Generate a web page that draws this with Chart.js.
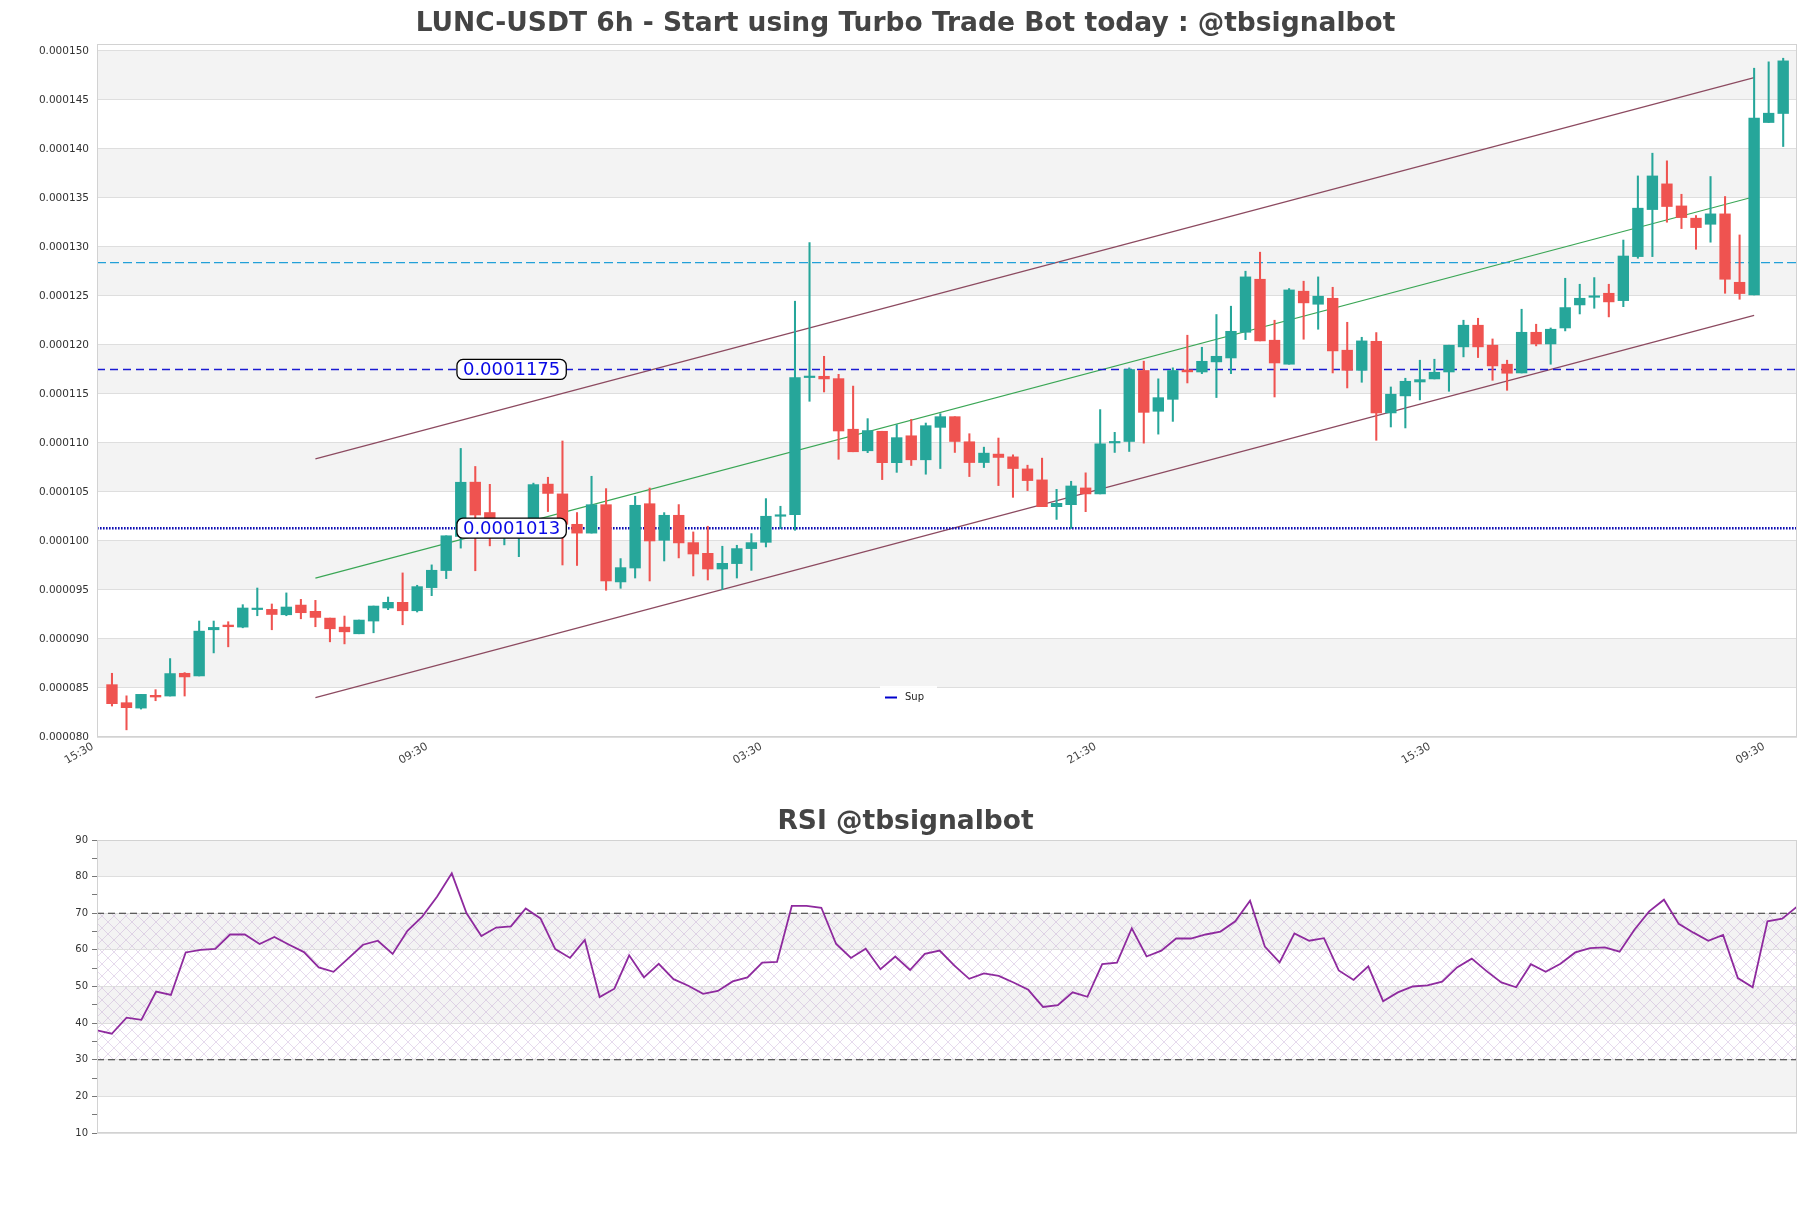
<!DOCTYPE html>
<html><head><meta charset="utf-8">
<script src="https://cdn.jsdelivr.net/npm/chart.js@4.4.0/dist/chart.umd.min.js"></script>
<style>html,body{margin:0;padding:0;background:#fff;} canvas{display:block;}</style>
</head><body>
<canvas id="main" width="1811" height="790"></canvas>
<canvas id="rsi" width="1811" height="418"></canvas>
<script>
// ---------------- data ----------------
const xTickIdx = [0, 23, 46, 69, 92, 115];
const xTickLabels = ['15:30', '09:30', '03:30', '21:30', '15:30', '09:30'];
const yTicks = [80e-6,85e-6,90e-6,95e-6,100e-6,105e-6,110e-6,115e-6,120e-6,125e-6,130e-6,135e-6,140e-6,145e-6,150e-6];
const rsiTicks = [10,15,20,25,30,35,40,45,50,55,60,65,70,75,80,85,90];

const openP = [85.34,83.5,82.95,84.25,84.18,86.5,86.23,90.94,91.42,91.21,
93.0,93.02,92.47,93.46,92.82,92.13,91.21,90.53,91.83,93.16,
93.74,92.88,95.24,96.98,100.46,106.0,102.9,100.5,101.0,101.3,
105.8,104.8,101.7,100.8,103.7,95.82,97.24,103.8,100.07,102.62,
99.83,98.74,97.14,97.69,99.22,99.86,102.52,102.69,116.67,116.8,
116.56,111.4,109.2,111.19,107.99,110.73,108.28,111.59,112.68,110.12,
108.0,108.86,108.58,107.35,106.23,103.5,103.7,105.41,104.8,110.0,
110.15,117.39,113.23,114.45,117.45,117.24,118.27,118.67,121.29,126.7,
120.48,118.03,125.48,124.15,124.76,119.46,117.41,120.37,113.06,114.8,
116.22,116.53,117.24,119.8,122.01,119.97,118.03,117.14,121.29,120.1,
121.73,124.08,124.86,125.27,124.52,129.01,133.81,136.43,134.18,132.93,
132.31,133.37,126.39,125.1,142.69,143.61].map(v => v * 1e-6);
const highP = [86.5,84.2,84.35,84.83,88.0,86.57,91.83,91.83,91.76,93.5,
95.2,93.57,94.7,94.04,93.94,92.13,92.34,91.93,93.36,94.28,
96.74,95.48,97.56,100.53,109.44,107.6,105.78,102.0,101.9,105.9,
106.5,110.2,102.9,106.6,105.34,98.2,104.56,105.4,102.89,103.71,
100.92,101.5,99.46,99.56,100.75,104.32,103.54,124.46,130.44,118.84,
117.0,115.8,112.48,111.19,111.87,112.4,112.03,112.99,112.68,110.94,
109.57,110.5,108.79,107.73,108.45,105.27,106.09,106.95,113.4,111.08,
117.66,118.34,116.54,117.66,120.99,119.76,123.1,123.95,127.52,129.46,
122.52,125.75,126.5,126.94,125.88,122.31,120.78,121.26,115.71,116.6,
118.44,118.54,119.97,122.52,122.72,120.61,118.44,123.64,122.11,121.73,
126.8,126.19,126.87,126.19,130.7,137.24,139.56,138.78,135.37,133.2,
137.18,135.14,131.22,148.23,148.88,149.25].map(v => v * 1e-6);
const lowP = [83.16,80.73,82.85,83.7,84.18,84.18,86.23,88.58,89.2,91.14,
92.37,90.94,92.37,92.06,91.25,89.71,89.5,90.53,90.63,92.99,
91.45,92.75,94.42,96.16,99.27,96.96,99.5,99.6,98.4,101.0,
103.0,97.55,97.5,100.8,94.97,95.17,96.22,95.92,97.96,98.27,
96.43,96.02,95.03,96.22,97.0,99.39,101.26,101.09,114.25,115.2,
108.33,109.1,109.01,106.26,107.0,107.7,106.81,107.39,109.03,106.57,
107.49,105.65,104.45,105.14,103.5,102.2,101.28,102.99,104.8,109.03,
109.13,109.98,110.9,112.2,116.12,117.07,114.63,117.07,120.54,120.41,
114.69,118.03,120.58,121.6,117.14,115.61,116.19,110.27,111.63,111.53,
114.39,116.53,115.27,118.78,118.71,116.39,115.37,117.14,119.9,118.03,
121.43,123.16,123.74,122.86,123.9,128.84,129.01,132.52,131.87,129.76,
130.48,125.27,124.66,125.1,142.69,140.24].map(v => v * 1e-6);
const closeP = [83.4,82.99,84.35,84.08,86.47,86.13,90.8,91.18,91.25,93.16,
93.1,92.5,93.26,92.68,92.2,91.04,90.73,91.93,93.36,93.74,
92.88,95.34,97.01,100.53,105.99,102.65,101.0,101.2,101.3,105.75,
104.85,101.7,100.8,103.7,95.92,97.28,103.64,100.0,102.62,99.8,
98.67,97.14,97.72,99.22,99.83,102.52,102.65,116.67,116.77,116.53,
111.22,109.1,111.26,107.99,110.54,108.28,111.76,112.68,110.15,108.0,
108.96,108.52,107.39,106.16,103.5,103.84,105.61,104.8,109.91,110.15,
117.49,113.12,114.62,117.39,117.25,118.33,118.84,121.39,126.94,120.41,
118.16,125.61,124.29,124.97,119.39,117.41,120.41,113.06,114.97,116.29,
116.46,117.21,119.97,122.01,119.8,117.86,117.11,121.29,120.1,121.6,
123.81,124.76,124.93,124.39,129.07,133.95,137.24,134.12,132.99,131.97,
133.37,126.7,125.24,143.13,143.64,148.98].map(v => v * 1e-6);

const rsiValues = [38.0,37.1,41.5,40.9,48.6,47.7,59.3,60.0,60.3,64.2,
64.2,61.6,63.5,61.4,59.4,55.2,54.0,57.7,61.4,62.5,
58.9,65.2,69.1,74.5,80.9,70.0,63.8,66.1,66.4,71.3,
68.6,60.2,57.8,62.7,47.1,49.4,58.5,52.5,56.2,52.0,
50.2,48.0,48.8,51.4,52.5,56.5,56.7,72.0,72.0,71.5,
61.6,57.8,60.3,54.7,58.2,54.5,58.9,59.8,55.7,52.1,
53.6,52.9,51.1,49.1,44.4,44.9,48.4,47.2,56.1,56.5,
65.9,58.2,59.8,63.1,63.1,64.2,65.0,67.8,73.4,60.9,
56.6,64.5,62.5,63.2,54.4,51.8,55.5,46.0,48.4,50.0,
50.3,51.3,55.2,57.6,54.2,51.1,49.8,56.1,54.0,56.2,
59.3,60.5,60.7,59.5,65.5,70.5,73.7,67.1,64.7,62.5,
64.1,52.3,49.8,67.8,68.5,71.8];

const supLevel = 0.0001013;
const resLevel = 0.0001175;
const upperLevel = 0.0001284;
const channelIdx = [14, 113];
const channelUpper = [0.00010837, 0.00014727];
const channelMid = [0.00009621, 0.00013512];
const channelLower = [0.00008402, 0.00012302];
const rsiOverbought = 70;
const rsiOversold = 30;

// ---------------- style ----------------
const FONT = 'DejaVu Sans';
const UP = '#26a69a', DN = '#ef5350';
const X_MIN = -1.03, X_MAX = 115.95;
const Y_MIN = 80e-6, Y_MAX = 150.7e-6;
const LABEL_AT = 27.5;
const BAND = '#f3f3f3', GRID = '#dedede', FRAME = '#d2d2d2';

const idx = openP.map((_, i) => i);
const candleColors = idx.map(i => closeP[i] >= openP[i] ? UP : DN);

function shade(chart, bands, color) {
  const { ctx, chartArea: a, scales: { y } } = chart;
  ctx.save();
  ctx.fillStyle = color;
  bands.forEach(([lo, hi]) => {
    const p1 = y.getPixelForValue(hi), p2 = y.getPixelForValue(lo);
    const t = Math.max(a.top, Math.min(p1, p2)), b = Math.min(a.bottom, Math.max(p1, p2));
    ctx.fillRect(a.left, t, a.right - a.left, b - t);
  });
  ctx.restore();
}
function frame(chart) {
  const { ctx, chartArea: a } = chart;
  ctx.save();
  ctx.strokeStyle = FRAME; ctx.lineWidth = 1;
  ctx.strokeRect(Math.round(a.left) + 0.5, Math.round(a.top) + 0.5, Math.round(a.right - a.left) - 1, Math.round(a.bottom - a.top) - 1);
  ctx.restore();
}
function altBands(ticks) {
  const out = [];
  for (let k = 1; k < ticks.length - 1; k += 2) out.push([ticks[k], ticks[k + 1]]);
  return out;
}

const mainPlugin = {
  id: 'mainDeco',
  beforeDraw(chart) {
    const { ctx } = chart;
    ctx.save(); ctx.fillStyle = '#fff'; ctx.fillRect(0, 0, chart.width, chart.height); ctx.restore();
    shade(chart, altBands(yTicks), BAND);
  },
  afterDatasetsDraw(chart) {
    const { ctx, scales: { x, y } } = chart;
    ctx.save();
    ctx.font = '18px "' + FONT + '"';
    [resLevel, supLevel].forEach(lv => {
      const txt = lv.toFixed(7);
      const w = ctx.measureText(txt).width + 12, h = 20;
      const cx = x.getPixelForValue(LABEL_AT), cy = y.getPixelForValue(lv);
      ctx.beginPath();
      ctx.roundRect(cx - w / 2, cy - h / 2, w, h, 6);
      ctx.fillStyle = '#fff'; ctx.fill();
      ctx.lineWidth = 1.3; ctx.strokeStyle = '#000'; ctx.stroke();
      ctx.fillStyle = '#0a0ae6'; ctx.textAlign = 'center'; ctx.textBaseline = 'middle';
      ctx.fillText(txt, cx, cy + 1);
    });
    ctx.restore();
  },
  afterDraw(chart) {
    frame(chart);
    const { ctx, chartArea: a } = chart;
    const lx = a.left + 783, ly = a.bottom - 51;
    ctx.save();
    ctx.fillStyle = 'rgba(255,255,255,0.9)';
    ctx.fillRect(lx, ly, 57, 23);
    ctx.strokeStyle = '#0000cc'; ctx.lineWidth = 2;
    ctx.beginPath(); ctx.moveTo(lx + 5, ly + 11.5); ctx.lineTo(lx + 17, ly + 11.5); ctx.stroke();
    ctx.fillStyle = '#222'; ctx.font = '10px "' + FONT + '"'; ctx.textBaseline = 'middle'; ctx.textAlign = 'left';
    ctx.fillText('Sup', lx + 25, ly + 11.5);
    ctx.restore();
  }
};

function seg(xs, ys) { return xs.map((v, i) => ({ x: v, y: ys[i] })); }

new Chart(document.getElementById('main'), {
  type: 'bar',
  data: {
    datasets: [
      { type: 'bar', label: 'body', data: idx.map(i => ({ x: i, y: [openP[i], closeP[i]] })),
        backgroundColor: candleColors, borderWidth: 0, barThickness: 10.7, grouped: false, minBarLength: 1.5, order: 1 },
      { type: 'bar', label: 'wick', data: idx.map(i => ({ x: i, y: [lowP[i], highP[i]] })),
        backgroundColor: candleColors, borderWidth: 0, barThickness: 1.4, grouped: false, order: 2 },
      { type: 'line', label: 'Sup', data: seg([X_MIN, X_MAX], [supLevel, supLevel]), borderColor: '#1010b4',
        borderWidth: 2.6, borderDash: [1.6, 1.4], pointRadius: 0, order: 3 },
      { type: 'line', label: 'Res', data: seg([X_MIN, X_MAX], [resLevel, resLevel]), borderColor: '#1a1ad2',
        borderWidth: 1.4, borderDash: [8, 5], pointRadius: 0, order: 3 },
      { type: 'line', label: 'Top', data: seg([X_MIN, X_MAX], [upperLevel, upperLevel]), borderColor: '#22a0d8',
        borderWidth: 1.2, borderDash: [9, 4], pointRadius: 0, order: 3 },
      { type: 'line', label: 'upper', data: seg(channelIdx, channelUpper), borderColor: '#8c4a60', borderWidth: 1.2, pointRadius: 0, order: 4 },
      { type: 'line', label: 'mid', data: seg(channelIdx, channelMid), borderColor: '#3aa655', borderWidth: 1.1, pointRadius: 0, order: 4 },
      { type: 'line', label: 'lower', data: seg(channelIdx, channelLower), borderColor: '#8c4a60', borderWidth: 1.2, pointRadius: 0, order: 4 }
    ]
  },
  options: {
    responsive: false, animation: false, devicePixelRatio: 1,
    layout: { padding: { left: 14, right: 14, top: 0, bottom: 0 } },
    plugins: {
      legend: { display: false }, tooltip: { enabled: false },
      title: { display: true, text: 'LUNC-USDT 6h - Start using Turbo Trade Bot today : @tbsignalbot',
        color: '#444', font: { family: FONT, size: 26.5, weight: 'bold' }, padding: { top: 8.3, bottom: 3.9 } }
    },
    scales: {
      x: { type: 'linear', min: X_MIN, max: X_MAX, offset: false,
        grid: { display: false, drawTicks: false }, border: { display: false },
        afterBuildTicks: s => { s.ticks = xTickIdx.map(v => ({ value: v })); },
        ticks: { autoSkip: false, minRotation: 30, maxRotation: 30, labelOffset: -19, padding: 3,
          color: '#444', font: { family: FONT, size: 11 }, callback: (v, i) => xTickLabels[i] },
        afterFit: s => { s.height = 53; } },
      y: { type: 'linear', min: Y_MIN, max: Y_MAX,
        afterBuildTicks: s => { s.ticks = yTicks.map(v => ({ value: v })); },
        ticks: { padding: 8, color: '#333', font: { family: FONT, size: 10.5 }, callback: v => v.toFixed(6) },
        grid: { color: GRID, drawTicks: false }, border: { display: false },
        afterFit: s => { s.width = 83; } }
    }
  },
  plugins: [mainPlugin]
});

// ---------------- RSI ----------------
function hatchPattern(ctx) {
  const c = document.createElement('canvas');
  c.width = 12; c.height = 12;
  const g = c.getContext('2d');
  g.strokeStyle = 'rgba(185,150,205,0.45)'; g.lineWidth = 0.8;
  g.beginPath(); g.moveTo(0, 0); g.lineTo(12, 12); g.moveTo(0, 12); g.lineTo(12, 0); g.stroke();
  return ctx.createPattern(c, 'repeat');
}
const rsiMajor = rsiTicks.filter(v => v % 10 === 0);
const rsiPlugin = {
  id: 'rsiDeco',
  beforeDraw(chart) {
    const { ctx, chartArea: a, scales: { y } } = chart;
    ctx.save(); ctx.fillStyle = '#fff'; ctx.fillRect(0, 0, chart.width, chart.height); ctx.restore();
    shade(chart, altBands(rsiMajor), BAND);
    const t = y.getPixelForValue(rsiOverbought), b = y.getPixelForValue(rsiOversold);
    ctx.save(); ctx.fillStyle = hatchPattern(ctx); ctx.fillRect(a.left, t, a.right - a.left, b - t); ctx.restore();
  },
  afterDraw(chart) { frame(chart); }
};

const rsiIdx = rsiValues.map((_, i) => i);
new Chart(document.getElementById('rsi'), {
  type: 'line',
  data: {
    datasets: [
      { label: 'RSI', data: seg(rsiIdx, rsiValues), borderColor: '#8e2a9e', borderWidth: 1.8, pointRadius: 0, tension: 0, order: 1 },
      { label: 'ob', data: seg([0, rsiIdx.length - 1], [rsiOverbought, rsiOverbought]), borderColor: '#333', borderWidth: 1.2, borderDash: [7, 4], pointRadius: 0, order: 2 },
      { label: 'os', data: seg([0, rsiIdx.length - 1], [rsiOversold, rsiOversold]), borderColor: '#333', borderWidth: 1.2, borderDash: [7, 4], pointRadius: 0, order: 2 }
    ]
  },
  options: {
    responsive: false, animation: false, devicePixelRatio: 1,
    layout: { padding: { left: 14, right: 14, top: 0, bottom: 75 } },
    plugins: {
      legend: { display: false }, tooltip: { enabled: false },
      title: { display: true, text: 'RSI @tbsignalbot', color: '#444',
        font: { family: FONT, size: 26.5, weight: 'bold' }, padding: { top: 16.3, bottom: 1.9 } }
    },
    scales: {
      x: { type: 'linear', min: 0, max: rsiIdx.length - 1, display: false },
      y: { type: 'linear', min: 10, max: 90,
        afterBuildTicks: s => { s.ticks = rsiTicks.map(v => ({ value: v })); },
        ticks: { padding: 4, color: '#333', font: { family: FONT, size: 10 }, callback: v => (v % 10 === 0 ? String(v) : '') },
        grid: { color: c => (c.tick && c.tick.value % 10 === 0 ? GRID : 'rgba(0,0,0,0)'), tickColor: '#777', tickLength: 5, drawTicks: true },
        border: { display: false },
        afterFit: s => { s.width = 83; } }
    }
  },
  plugins: [rsiPlugin]
});
</script>
</body></html>
